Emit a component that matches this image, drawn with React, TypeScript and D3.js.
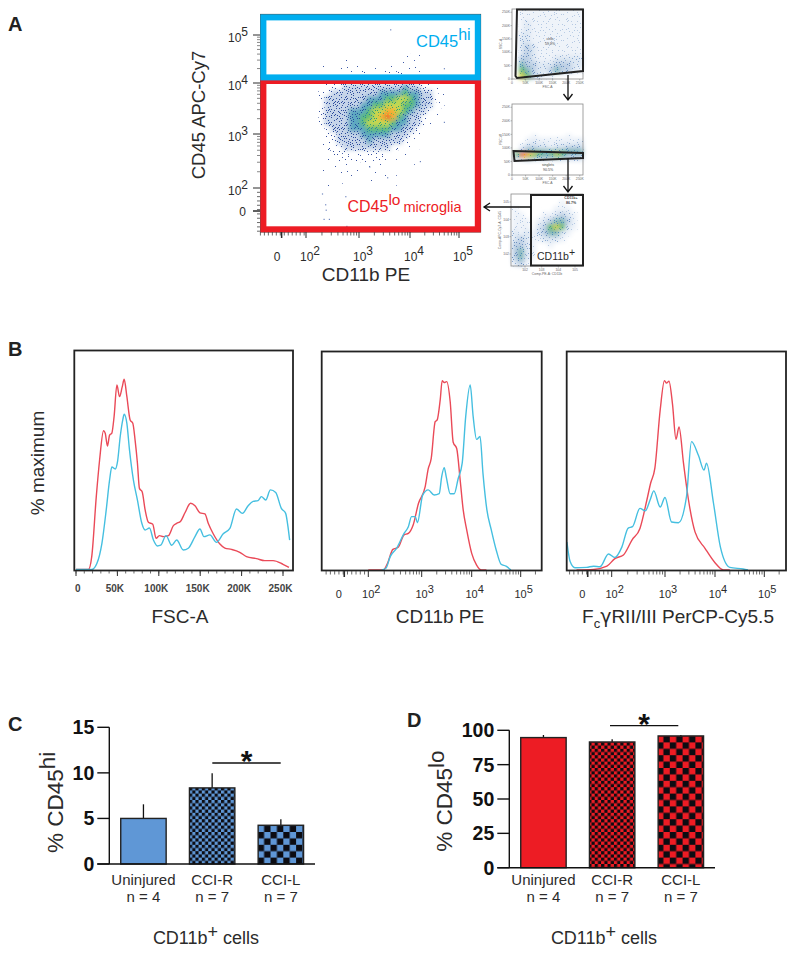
import React from 'react';
import * as d3 from 'd3';

const W = 795;
const H = 953;
const FONT = "'Liberation Sans', Arial, sans-serif";
const INK = '#2b2b2b';
const RED = '#ed1c24';
const CYAN = '#00aeef';
const HIST_RED = '#ea4a58';
const HIST_CYAN = '#45bfe0';
const BAR_BLUE = '#5f97d6';

// panel B histograms, x then % of maximum
const FSC_X_RED = [0, 15, 19, 24.5, 28.5, 33.3, 35.3, 38, 40.5, 43.3, 46, 49.4, 52.6, 55.8, 58.2, 61.4, 65.4, 68.6, 71.4, 74.2, 76.6, 79.9, 83.5, 87.5, 92.7, 96.7, 100.7, 105.5, 111.6, 117.6, 121.6, 126.4, 131.6, 138.4, 143.7, 149.7, 155.7, 159.7, 165.7, 173.8, 179.8, 187.8, 197.8, 205.9, 217.9, 227.9, 238, 250, 257.2];
const FSC_Y_RED = [0.3, 0.3, 7, 38.5, 57.7, 73, 71.7, 65, 70.6, 71.8, 80.4, 97, 90.9, 96, 100, 91, 78.7, 77, 68, 56, 42.8, 41, 31.5, 25, 24, 16.6, 18, 17.5, 18, 23.3, 24.5, 25.6, 30, 35, 33.7, 30, 29.4, 24.5, 19, 13.6, 11.5, 10.8, 9.3, 7, 6, 4.9, 4.9, 3, 1.4];
const FSC_X_CYAN = [0, 19.3, 25.3, 31.3, 36.5, 40.5, 43.3, 47.4, 50.2, 53.4, 56.6, 58.2, 61.4, 64.6, 69.4, 74.2, 79.5, 83.5, 88.7, 93.5, 98.3, 102.3, 108.7, 115.6, 121.6, 129.6, 135.6, 143.7, 149.7, 154.5, 161.7, 169.7, 177.8, 185.8, 193.8, 201, 207.9, 213.9, 219.9, 223.9, 229.1, 234.8, 241.2, 248, 253.2, 256, 258];
const FSC_Y_CYAN = [0.3, 0.3, 3.5, 14, 31.5, 47, 54, 53, 57, 70, 79, 81.7, 77, 63, 47, 36.7, 24.5, 21, 22, 15.7, 12.6, 13, 18, 13, 15.7, 10.5, 11.4, 17.5, 21.5, 17.5, 18.4, 14.5, 19, 21.8, 32, 29.7, 33.7, 36, 36.4, 38.5, 36.7, 42, 40.6, 32.3, 29.7, 22.7, 15.7];

const PE_X_RED = [2, 2.28, 2.36, 2.46, 2.56, 2.67, 2.75, 2.84, 2.94, 3.07, 3.13, 3.19, 3.27, 3.31, 3.37, 3.41, 3.45, 3.5, 3.57, 3.63, 3.7, 3.77, 3.83, 3.9, 4, 4.1, 4.2, 4.3];
const PE_Y_RED = [0, 0, 3.5, 10.8, 11.9, 18.4, 19.2, 23.6, 35, 43.7, 53, 58.4, 77.8, 78.7, 89.2, 99.3, 98.3, 98.8, 88.2, 67, 63.7, 47, 31.5, 21, 8.7, 2.6, 0, 0];
const PE_X_CYAN = [2.25, 2.33, 2.41, 2.53, 2.67, 2.75, 2.81, 2.88, 2.92, 3.02, 3.13, 3.25, 3.35, 3.4, 3.45, 3.49, 3.57, 3.65, 3.73, 3.81, 3.88, 3.97, 4.03, 4.1, 4.17, 4.23, 4.31, 4.4, 4.5, 4.6, 4.7, 4.8];
const PE_Y_CYAN = [0, 0.9, 7, 11.4, 19.2, 22.7, 28, 28, 24.8, 39.3, 42, 39.3, 40, 49, 53.7, 49, 40, 40, 48, 56, 80.4, 97, 80.4, 68.5, 70, 50.7, 31.5, 21, 10.5, 3, 2, 0];

const FC_X_RED = [1.34, 1.66, 1.91, 2.06, 2.22, 2.38, 2.53, 2.66, 2.73, 2.81, 2.91, 2.99, 3.03, 3.08, 3.15, 3.22, 3.28, 3.37, 3.47, 3.6, 3.8, 4, 4.17, 4.3];
const FC_Y_RED = [0, 0.3, 2, 6, 7.9, 15.7, 21.8, 36.7, 45.5, 53.4, 84, 99.3, 98, 99, 87, 68.5, 75, 56, 36.7, 20, 11.4, 3.8, 0, 0];
const FC_X_CYAN = [1.16, 1.22, 1.31, 1.53, 1.66, 1.78, 1.94, 2.06, 2.19, 2.31, 2.39, 2.53, 2.63, 2.72, 2.79, 2.91, 3, 3.13, 3.27, 3.43, 3.53, 3.67, 3.78, 3.83, 3.97, 4.11, 4.3, 4.57, 4.67];
const FC_Y_CYAN = [14.7, 4.4, 1.2, 1.4, 2, 1.7, 8.4, 6.6, 12, 22, 22.7, 32.3, 31, 36.7, 41.5, 33, 38, 25.2, 24.8, 38.5, 67.3, 60, 52.4, 56, 35, 12, 1.4, 0.5, 0];

// panel C and D bars
const GROUPS = ['Uninjured', 'CCI-R', 'CCI-L'];
const GROUP_N = ['n = 4', 'n = 7', 'n = 7'];
const HI_MEAN = [5, 8.35, 4.25];
const HI_UPPER = [6.55, 9.95, 4.9];
const HI_TICKS = [0, 5, 10, 15];
const LO_MEAN = [94.7, 91.5, 95.9];
const LO_UPPER = [96.6, 93.4, 96.6];
const LO_TICKS = [0, 25, 50, 75, 100];

// panel A dot plot, density levels read by eye (0 empty ... 8 hottest)
const MAIN_DENSITY = [
  '0000000000000000110000',
  '0000000000000011110000',
  '0000101101000111100000',
  '1001111111011111100000',
  '0000111211122211000000',
  '0001112222222221100000',
  '1222333333333343322100',
  '2233333333444454433210',
  '2333333344455665433210',
  '2333333445566655433110',
  '2333344456677654332100',
  '2333344556787543321100',
  '2333344566665443321000',
  '1233344455554433210000',
  '1223333444443332110000',
  '1223333343333321100000',
  '1222333333332211000000',
  '1122222222221110100000',
  '1111222211211100000000',
  '1111111110110000100000',
  '1101101111010000000000',
  '1000110010010100000000',
  '1100100010001000000000',
];
const MAIN_DENSITY_U = [2.235, 4.82];
const MAIN_DENSITY_V = [4.73, 2.04];
const MAIN_STRAY_U = [3.61, 4.69, 4.69, 4.2, 2.33, 2.43, 2.76, 2.37, 2.3, 2.36, 2.74, 3.2, 3.55, 4.3];
const MAIN_STRAY_V = [5.12, 4.31, 3.24, 2.5, 1.43, 1.43, 1.3, 1.6, 1.9, 1.7, 1.85, 2.4, 2.2, 3.6];

// gating thumbnails
const CELLS_DENSITY = [
  '011111111111',
  '011111111111',
  '012111111111',
  '012111111111',
  '022111111111',
  '022111111111',
  '023211111111',
  '023211111111',
  '033211122222',
  '043322233322',
  '054322343321',
  '065321100000',
];
const SINGLETS_DENSITY = [
  '000000000000',
  '000100000100',
  '001111111111',
  '001211111112',
  '012222122222',
  '023322122333',
  '034444444444',
  '587654565444',
  '476544454333',
  '123222222222',
];
const CD11B_DENSITY = [
  '000000000000',
  '000000001000',
  '100000011100',
  '110001123210',
  '111012344310',
  '111023565210',
  '212123442100',
  '232112221000',
  '332100100000',
  '342100000000',
  '342100000000',
  '231000000000',
];
const LINEAR_TICKS = ['0', '50K', '100K', '150K', '200K', '250K'];
const LINEAR_VALUES = [0, 50, 100, 150, 200, 250];

const DECADES = [2, 3, 4, 5];
const MINORS = d3.range(2, 10).map((m) => Math.log10(m));
const SPECKS = [[2, 1], [11, 3], [6, 8], [15, 10], [8, 0], [1, 6], [13, 7], [4, 11], [10, 12], [16, 4], [5, 3], [12, 10], [0, 9], [8, 5], [14, 1], [3, 6], [9, 9], [6, 12], [16, 12], [11, 6], [1, 3], [7, 2], [13, 4], [4, 8], [15, 7], [10, 1], [2, 10], [8, 11], [12, 0], [5, 6], [14, 11], [0, 1], [6, 5], [10, 8], [16, 8], [3, 12], [11, 11], [7, 7], [13, 2], [1, 11]];
const QUADRANTS = [[0, 0, 0], [17, 0, 9], [0, 13, 19], [17, 13, 29]];

const STRONG = [
  { n: 0, bg: 'none', dot: 'none' },
  { n: 3, bg: 'none', dot: '#3d58a6' },
  { n: 11, bg: 'none', dot: '#34509f' },
  { n: 30, bg: '#c4d3e8', dot: '#2a4a9c' },
  { n: 26, bg: '#5aa6c0', dot: '#25509f' },
  { n: 26, bg: '#5cbc72', dot: '#2a86a4' },
  { n: 26, bg: '#c2d84e', dot: '#2f9f78' },
  { n: 24, bg: '#f5b033', dot: '#7cbc4c' },
  { n: 22, bg: '#ee5a24', dot: '#c8d040' },
];
const PALE = [
  { n: 0, bg: 'none', dot: 'none' },
  { n: 14, bg: '#eef3f9', dot: '#b4c8e2' },
  { n: 20, bg: '#dde7f3', dot: '#8aa8d0' },
  { n: 24, bg: '#bccfe4', dot: '#6a8fbf' },
  { n: 20, bg: '#7fb5b8', dot: '#4f8fb8' },
  { n: 20, bg: '#66b86e', dot: '#4aa090' },
  { n: 16, bg: '#cfd246', dot: '#72bc58' },
  { n: 16, bg: '#f29a2a', dot: '#d8c840' },
  { n: 14, bg: '#e8502a', dot: '#f29a2a' },
];

function SpecklePatterns({ prefix, levels }: { prefix: string; levels: typeof STRONG }) {
  return (
    <>
      {levels.map((lv, i) => (
        <pattern key={i} id={`${prefix}${i}`} width={34} height={26} patternUnits="userSpaceOnUse">
          {QUADRANTS.map(([qx, qy, start]) =>
            d3.range(lv.n).map((k) => {
              const [x, y] = SPECKS[(start + k) % SPECKS.length];
              return <rect key={`${qx}-${qy}-${k}`} x={qx + x} y={qy + y} width={1} height={1} fill={lv.dot} />;
            }),
          )}
        </pattern>
      ))}
    </>
  );
}

function Density({ rows, x, y, prefix, levels }: { rows: string[]; x: number[]; y: number[]; prefix: string; levels: typeof STRONG }) {
  const col = d3.scaleBand<number>().domain(d3.range(rows[0].length)).range(x as [number, number]);
  const row = d3.scaleBand<number>().domain(d3.range(rows.length)).range(y as [number, number]);
  const cells = rows.flatMap((r, j) => r.split('').map((c, i) => ({ i, j, level: +c }))).filter((d) => d.level > 0);
  return (
    <g>
      <g filter="url(#smear)">
        {cells.filter((d) => levels[d.level].bg !== 'none').map((d) => (
          <rect key={`${d.i}-${d.j}`} x={col(d.i)} y={row(d.j)} width={col.bandwidth() + 0.3} height={row.bandwidth() + 0.3} fill={levels[d.level].bg} />
        ))}
      </g>
      <g filter="url(#soft)">
        {cells.map((d) => (
          <rect key={`${d.i}-${d.j}`} x={col(d.i)} y={row(d.j)} width={col.bandwidth() + 0.3} height={row.bandwidth() + 0.3} fill={`url(#${prefix}${d.level})`} />
        ))}
      </g>
    </g>
  );
}

function Pow({ exp, x, y, size, anchor }: { exp: number; x: number; y: number; size: number; anchor?: string }) {
  return (
    <text x={x} y={y} fontSize={size} fill={INK} textAnchor={anchor ?? 'middle'}>
      10
      <tspan dy={-size * 0.5}>{exp}</tspan>
    </text>
  );
}

const logScale = (range: number[]) => d3.scaleLinear().domain(DECADES).range(range);
const PCT = d3.scaleLinear().domain([0, 100]).range([570, 379.3]);

function MainPlot() {
  const x = logScale([306, 359, 410, 459]);
  const y = logScale([188, 134, 83, 35]);
  const xMinor = DECADES.slice(0, 3).flatMap((d) => MINORS.map((m) => d + m));
  const xLow = d3.range(1.14, 2, 0.075);
  return (
    <g>
      <Density rows={MAIN_DENSITY} x={MAIN_DENSITY_U.map((u) => x(u))} y={MAIN_DENSITY_V.map((v) => y(v))} prefix="strong" levels={STRONG} />
      {MAIN_STRAY_U.map((u, i) => (
        <rect key={i} x={x(u)} y={y(MAIN_STRAY_V[i])} width={1.2} height={1.2} fill="#6f86bf" />
      ))}
      <rect x={260.6} y={14.4} width={220} height={217.6} fill="none" stroke="#444" strokeWidth={1} />
      <rect x={263.4} y={81} width={214.4} height={148.3} fill="none" stroke={RED} strokeWidth={6} />
      <rect x={263.4} y={17.4} width={214.4} height={60} fill="none" stroke={CYAN} strokeWidth={6} />

      {/* y ticks */}
      {DECADES.map((d) => (
        <line key={d} x1={253} x2={260} y1={y(d)} y2={y(d)} stroke={INK} strokeWidth={1} />
      ))}
      {DECADES.slice(0, 3).flatMap((d) => MINORS.map((m) => d + m)).map((v) => (
        <line key={v} x1={257} x2={260} y1={y(v)} y2={y(v)} stroke="#555" strokeWidth={0.7} />
      ))}
      {d3.range(1.2, 2, 0.08).map((v) => (
        <line key={v} x1={257} x2={260} y1={y(v)} y2={y(v)} stroke="#444" strokeWidth={0.8} />
      ))}
      <line x1={253} x2={260} y1={y(1.574)} y2={y(1.574)} stroke={INK} strokeWidth={1.5} />
      {DECADES.map((d) => (
        <Pow key={d} exp={d} x={248} y={y(d) + 6.5} size={12} anchor="end" />
      ))}
      <text x={246} y={216} fontSize={12} fill={INK} textAnchor="end">0</text>

      {/* x ticks */}
      {DECADES.map((d) => (
        <line key={d} x1={x(d)} x2={x(d)} y1={232} y2={238} stroke={INK} strokeWidth={1} />
      ))}
      {xMinor.concat(xLow).map((u) => (
        <line key={u} x1={x(u)} x2={x(u)} y1={232} y2={235.5} stroke="#444" strokeWidth={0.8} />
      ))}
      <line x1={x(1.54)} x2={x(1.54)} y1={232} y2={238} stroke={INK} strokeWidth={1.5} />
      {DECADES.map((d) => (
        <Pow key={d} exp={d} x={x(d) + 4} y={261} size={12} />
      ))}
      <text x={277} y={261} fontSize={12} fill={INK} textAnchor="middle">0</text>

      <text x={416} y={47} fontSize={16.5} fill={CYAN}>
        CD45<tspan dy={-7} fontSize={16}>hi</tspan>
      </text>
      <text x={347.5} y={212} fontSize={16} fill={RED}>
        CD45<tspan dy={-7} fontSize={15.5}>lo</tspan>
        <tspan dy={7} dx={3} fontSize={14.5}>microglia</tspan>
      </text>
      <text transform="translate(205,115) rotate(-90)" fontSize={18.5} fill={INK} textAnchor="middle">CD45 APC-Cy7</text>
      <text x={366} y={281} fontSize={19} fill={INK} textAnchor="middle">CD11b PE</text>
    </g>
  );
}

interface ThumbProps {
  box: number[];
  rows: string[];
  densityX: number[];
  densityY: number[];
  linear: boolean;
  xName: string;
  yName: string;
}

function Thumb({ box, rows, densityX, densityY, linear, xName, yName }: ThumbProps) {
  const [l, t, r, b] = box;
  const lin = d3.scaleLinear().domain([0, 262]);
  const xs = lin.copy().range([l, r]);
  const ys = lin.copy().range([b, t]);
  const tiny = 3.4;
  const xLog = d3.scaleLinear().domain([2, 5]).range([l + 14, r - 8]);
  const yLog = d3.scaleLinear().domain([2, 5]).range([b - 12, t + 8]);
  return (
    <g>
      <Density rows={rows} x={densityX} y={densityY} prefix="pale" levels={PALE} />
      <rect x={l} y={t} width={r - l} height={b - t} fill="none" stroke="#8a8a8a" strokeWidth={0.8} />
      {linear
        ? LINEAR_VALUES.map((v, i) => (
            <g key={v} fontSize={tiny} fill="#666">
              <line x1={xs(v)} x2={xs(v)} y1={b} y2={b + 1.5} stroke="#777" strokeWidth={0.5} />
              <line x1={l - 1.5} x2={l} y1={ys(v)} y2={ys(v)} stroke="#777" strokeWidth={0.5} />
              <text x={xs(v)} y={b + 5} textAnchor="middle">{LINEAR_TICKS[i]}</text>
              <text x={l - 2} y={ys(v) + 1.2} textAnchor="end">{LINEAR_TICKS[i]}</text>
            </g>
          ))
        : DECADES.map((d) => (
            <g key={d} fontSize={tiny} fill="#666">
              <line x1={xLog(d)} x2={xLog(d)} y1={b} y2={b + 1.5} stroke="#777" strokeWidth={0.5} />
              <line x1={l - 1.5} x2={l} y1={yLog(d)} y2={yLog(d)} stroke="#777" strokeWidth={0.5} />
              <text x={xLog(d)} y={b + 5} textAnchor="middle">{`10${d}`}</text>
              <text x={l - 2} y={yLog(d) + 1.2} textAnchor="end">{`10${d}`}</text>
            </g>
          ))}
      <text x={(l + r) / 2} y={b + 9} fontSize={tiny} fill="#666" textAnchor="middle">{xName}</text>
      <text transform={`translate(${l - 10.5},${(t + b) / 2}) rotate(-90)`} fontSize={tiny} fill="#666" textAnchor="middle">{yName}</text>
    </g>
  );
}

function Gating() {
  return (
    <g>
      <Thumb box={[512, 9, 583, 79]} rows={CELLS_DENSITY} densityX={[513, 583]} densityY={[9, 79]} linear xName="FSC-A" yName="SSC-A" />
      <path d="M517,9.5 L583,9.5 L583,71 L517,78 L515.5,76 Z" fill="none" stroke="#222" strokeWidth={2} />
      <text fontSize={3.6} fill="#444" x={550} y={40} textAnchor="middle">cells</text>
      <text fontSize={3.6} fill="#444" x={550} y={45} textAnchor="middle">59.9%</text>

      <Thumb box={[512, 104, 583, 175]} rows={SINGLETS_DENSITY} densityX={[514, 583]} densityY={[131, 161]} linear xName="FSC-A" yName="FSC-W" />
      <path d="M513.5,151 L583,153 L583,158 L514.5,161 Z" fill="none" stroke="#222" strokeWidth={2} />
      <text fontSize={3.6} fill="#444" x={548} y={166} textAnchor="middle">singlets</text>
      <text fontSize={3.6} fill="#444" x={548} y={171} textAnchor="middle">90.5%</text>

      <Thumb box={[511, 194, 583, 266]} rows={CD11B_DENSITY} densityX={[512, 583]} densityY={[194, 266]} linear={false} xName="Comp-PE-A: CD11b" yName="Comp-APC-Cy7-A: CD45" />
      <rect x={531} y={195} width={52} height={70.5} fill="none" stroke="#222" strokeWidth={2} />
      <text fontSize={3.6} fill="#444" x={571} y={199} textAnchor="middle" fontWeight={700}>CD11b+</text>
      <text fontSize={3.6} fill="#444" x={571} y={204} textAnchor="middle" fontWeight={700}>86.7%</text>
      <text x={537} y={260} fontSize={10.5} fill={INK}>
        CD11b<tspan dy={-4.5}>+</tspan>
      </text>

      <g fill="none" stroke="#111" strokeWidth={1.3}>
        <path d="M568,75 L568,100 M563.5,94 L568,100 L572.5,94" />
        <path d="M568,158 L568,192 M563.5,186 L568,192 L572.5,186" />
        <path d="M531,207 L484,207 M490,203 L484,207 L490,211" />
      </g>
    </g>
  );
}

interface HistProps {
  frame: number[];
  xScale: d3.ScaleLinear<number, number>;
  redX: number[];
  redY: number[];
  cyanX: number[];
  cyanY: number[];
  id: string;
  children: React.ReactNode;
}

function Histogram({ frame, xScale, redX, redY, cyanX, cyanY, id, children }: HistProps) {
  const [l, t, r, b] = frame;
  const line = d3.line<[number, number]>()
    .x((d) => xScale(d[0]))
    .y((d) => PCT(d[1]))
    .curve(d3.curveMonotoneX);
  return (
    <g>
      <clipPath id={id}>
        <rect x={l} y={t} width={r - l} height={b - t} />
      </clipPath>
      <g clipPath={`url(#${id})`} fill="none" strokeWidth={1.4}>
        <path d={line(d3.zip(redX, redY) as [number, number][]) ?? ''} stroke={HIST_RED} />
        <path d={line(d3.zip(cyanX, cyanY) as [number, number][]) ?? ''} stroke={HIST_CYAN} />
      </g>
      <rect x={l} y={t} width={r - l} height={b - t} fill="none" stroke="#222" strokeWidth={1.8} />
      {children}
    </g>
  );
}

function LogAxis({ x, left, right }: { x: d3.ScaleLinear<number, number>; left: number; right: number }) {
  const minors = DECADES.flatMap((d) => MINORS.map((m) => d + m)).filter((u) => x(u) < right);
  const low = d3.range(1.05, 2, 0.08).filter((u) => x(u) > left);
  return (
    <g>
      {DECADES.map((d) => (
        <g key={d}>
          <line x1={x(d)} x2={x(d)} y1={571} y2={577} stroke={INK} strokeWidth={1} />
          <Pow exp={d} x={x(d) + 3} y={598} size={11} />
        </g>
      ))}
      {minors.concat(low).map((u) => (
        <line key={u} x1={x(u)} x2={x(u)} y1={571} y2={574.5} stroke="#444" strokeWidth={0.8} />
      ))}
      <line x1={x(1.55)} x2={x(1.55)} y1={571} y2={577} stroke={INK} strokeWidth={1.6} />
      <text x={x(1.45)} y={598} fontSize={11} fill={INK} textAnchor="middle">0</text>
    </g>
  );
}

function PanelB() {
  const fsc = d3.scaleLinear().domain([0, 250]).range([76, 283]);
  const pe = logScale([368.3, 421.7, 471.7, 520.7]);
  const fc = logScale([611.7, 665, 715, 764.3]);
  return (
    <g>
      <Histogram frame={[74.3, 350.5, 293, 570.5]} xScale={fsc} redX={FSC_X_RED} redY={FSC_Y_RED} cyanX={FSC_X_CYAN} cyanY={FSC_Y_CYAN} id="clip-fsc">
        {LINEAR_VALUES.map((v, i) => (
          <g key={v}>
            <line x1={fsc(v)} x2={fsc(v)} y1={571} y2={576} stroke={INK} strokeWidth={1} />
            <text x={fsc(v) + (v === 0 ? 1.7 : -2.5)} y={592} fontSize={10} fontWeight={700} fill="#444" textAnchor="middle">{LINEAR_TICKS[i]}</text>
          </g>
        ))}
        {d3.range(0, 260, 10).map((v) => (
          <line key={v} x1={fsc(v)} x2={fsc(v)} y1={571} y2={573.5} stroke="#444" strokeWidth={0.8} />
        ))}
      </Histogram>
      <Histogram frame={[321.7, 351.5, 541.7, 570.5]} xScale={pe} redX={PE_X_RED} redY={PE_Y_RED} cyanX={PE_X_CYAN} cyanY={PE_Y_CYAN} id="clip-pe">
        <LogAxis x={pe} left={322} right={541} />
      </Histogram>
      <Histogram frame={[566.7, 351.5, 786, 570.5]} xScale={fc} redX={FC_X_RED} redY={FC_Y_RED} cyanX={FC_X_CYAN} cyanY={FC_Y_CYAN} id="clip-fc">
        <LogAxis x={fc} left={567} right={785} />
      </Histogram>
      <text x={180} y={623} fontSize={19} fill={INK} textAnchor="middle">FSC-A</text>
      <text x={440} y={623} fontSize={19} fill={INK} textAnchor="middle">CD11b PE</text>
      <text x={678} y={623} fontSize={19} fill={INK} textAnchor="middle">
        F<tspan dy={5} fontSize={13}>c</tspan>
        <tspan dy={-5} fontFamily="'DejaVu Sans'">γ</tspan>RII/III PerCP-Cy5.5
      </text>
      <text transform="translate(44,463) rotate(-90)" fontSize={19} fill={INK} textAnchor="middle">% maximum</text>
    </g>
  );
}

interface BarProps {
  axisX: number;
  axisEnd: number;
  y: d3.ScaleLinear<number, number>;
  ticks: number[];
  means: number[];
  uppers: number[];
  fills: string[];
  sup: string;
  labelX: number;
  labelBottom: number;
  sig: number[];
  sigY: number;
  footX: number;
}

function BarPanel({ axisX, axisEnd, y, ticks, means, uppers, fills, sup, labelX, labelBottom, sig, sigY, footX }: BarProps) {
  const x = d3.scaleBand<string>().domain(GROUPS).range([axisX, axisEnd]).paddingInner(0.339).paddingOuter(0.1665);
  const base = y(0);
  return (
    <g>
      {GROUPS.map((g, i) => (
        <g key={g}>
          <line x1={x(g)! + x.bandwidth() / 2} x2={x(g)! + x.bandwidth() / 2} y1={y(means[i])} y2={y(uppers[i])} stroke="#111" strokeWidth={1.3} />
          <rect x={x(g)} y={y(means[i])} width={x.bandwidth()} height={base - y(means[i])} fill={fills[i]} stroke="#222" strokeWidth={1.4} />
        </g>
      ))}
      <line x1={axisX} x2={axisX} y1={y(ticks[ticks.length - 1])} y2={base} stroke="#111" strokeWidth={1.4} />
      <line x1={axisX - 12} x2={axisEnd} y1={base} y2={base} stroke="#111" strokeWidth={1.4} />
      {ticks.map((t) => (
        <g key={t}>
          <line x1={axisX - 12} x2={axisX} y1={y(t)} y2={y(t)} stroke="#111" strokeWidth={1.4} />
          <text x={axisX - 15} y={y(t) + 7} fontSize={19.5} fontWeight={700} fill="#111" textAnchor="end">{t}</text>
        </g>
      ))}
      {GROUPS.map((g, i) => (
        <g key={g} fontSize={15} fill={INK} textAnchor="middle">
          <text x={x(g)! + x.bandwidth() / 2} y={885}>{g}</text>
          <text x={x(g)! + x.bandwidth() / 2} y={901.5}>{GROUP_N[i]}</text>
        </g>
      ))}
      <line x1={sig[0]} x2={sig[1]} y1={sigY} y2={sigY} stroke="#111" strokeWidth={1.3} />
      <text x={(sig[0] + sig[1]) / 2} y={sigY + 8} fontSize={30} fontWeight={700} fill="#111" textAnchor="middle">*</text>
      <text transform={`translate(${labelX},${labelBottom}) rotate(-90)`} fontSize={22.5} fill={INK}>
        % CD45<tspan dy={-8}>{sup}</tspan>
      </text>
      <text x={footX} y={944} fontSize={18} fill={INK} textAnchor="middle">
        CD11b<tspan dy={-6}>+</tspan>
        <tspan dy={6}> cells</tspan>
      </text>
    </g>
  );
}

function Check({ id, size, color, ox }: { id: string; size: number; color: string; ox: number }) {
  return (
    <pattern id={id} x={ox} y={0} width={size * 2} height={size * 2} patternUnits="userSpaceOnUse">
      <rect width={size * 2} height={size * 2} fill={color} />
      <rect width={size} height={size} fill="#0c0c12" />
      <rect x={size} y={size} width={size} height={size} fill="#0c0c12" />
    </pattern>
  );
}

export default function App() {
  const yHi = d3.scaleLinear().domain([0, 15]).range([864, 727.3]);
  const yLo = d3.scaleLinear().domain([0, 100]).range([867.7, 730.3]);
  return (
    <svg
      width={W}
      height={H}
      viewBox={`0 0 ${W} ${H}`}
      style={{ position: 'absolute', left: 0, top: 0, background: '#fff', fontFamily: FONT }}
    >
      <defs>
        <filter id="soft" x="-5%" y="-5%" width="110%" height="110%">
          <feGaussianBlur stdDeviation={0.45} />
        </filter>
        <filter id="smear" x="-10%" y="-10%" width="120%" height="120%">
          <feGaussianBlur stdDeviation={2} />
        </filter>
        <SpecklePatterns prefix="strong" levels={STRONG} />
        <SpecklePatterns prefix="pale" levels={PALE} />
        <Check id="blue-fine" size={3.2} color={BAR_BLUE} ox={189} />
        <Check id="blue-wide" size={6.4} color={BAR_BLUE} ox={257.7} />
        <Check id="red-fine" size={3.2} color={RED} ox={588.3} />
        <Check id="red-wide" size={6.4} color={RED} ox={657} />
      </defs>

      <g fontSize={20} fontWeight={700} fill="#222">
        <text x={8} y={31}>A</text>
        <text x={8} y={356}>B</text>
        <text x={8} y={731}>C</text>
        <text x={407} y={727}>D</text>
      </g>

      <MainPlot />
      <Gating />
      <PanelB />

      <BarPanel
        axisX={109.3}
        axisEnd={315}
        y={yHi}
        ticks={HI_TICKS}
        means={HI_MEAN}
        uppers={HI_UPPER}
        fills={[BAR_BLUE, 'url(#blue-fine)', 'url(#blue-wide)']}
        sup="hi"
        labelX={63}
        labelBottom={853}
        sig={[212.3, 280.7]}
        sigY={763}
        footX={206}
      />
      <BarPanel
        axisX={509.3}
        axisEnd={715}
        y={yLo}
        ticks={LO_TICKS}
        means={LO_MEAN}
        uppers={LO_UPPER}
        fills={[RED, 'url(#red-fine)', 'url(#red-wide)']}
        sup="lo"
        labelX={452.3}
        labelBottom={851.7}
        sig={[610, 678.3]}
        sigY={725.7}
        footX={604}
      />
    </svg>
  );
}
